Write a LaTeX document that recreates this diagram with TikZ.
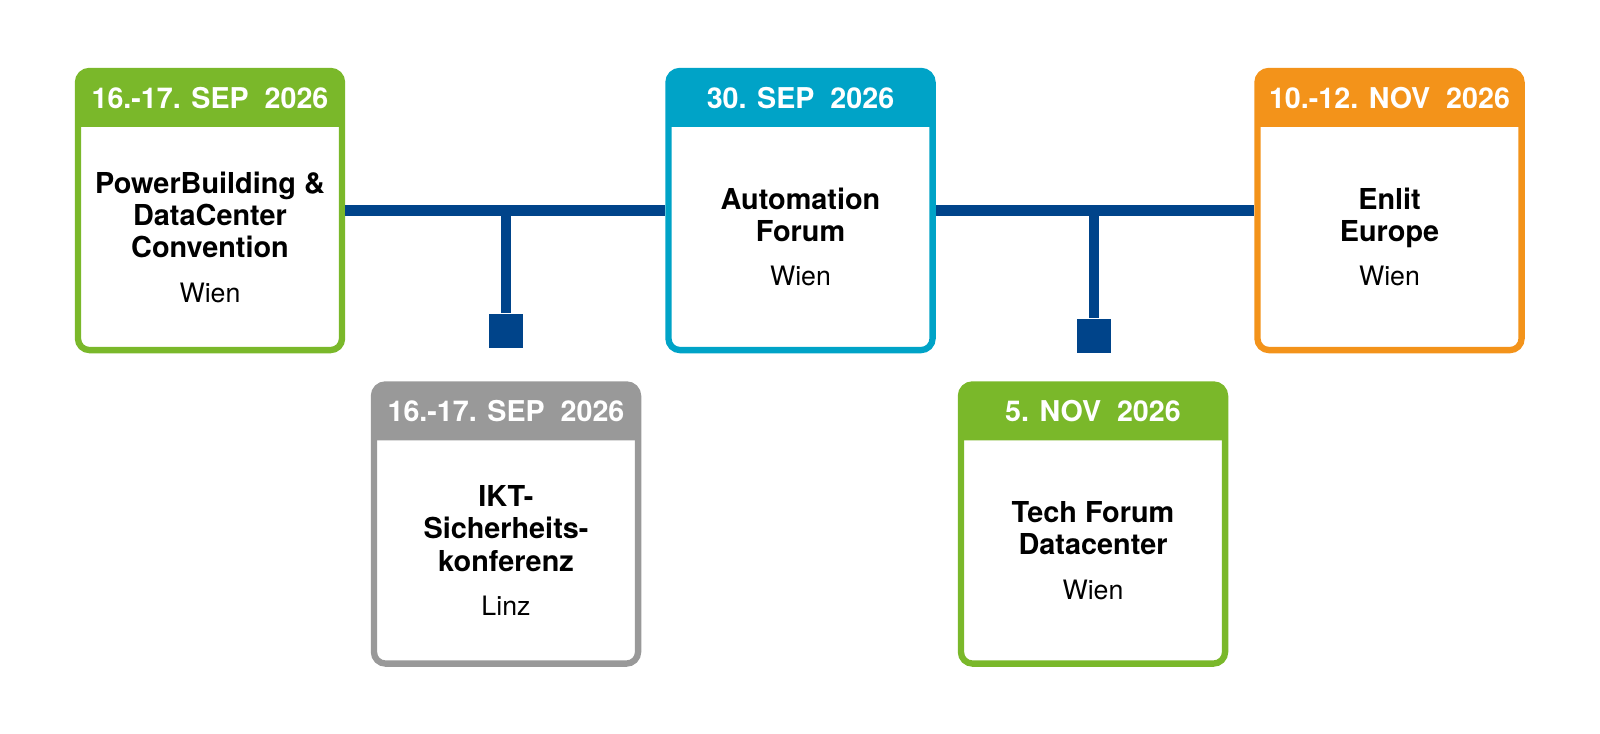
\documentclass[tikz,border=0pt]{standalone}
\usepackage{fontspec}
\setmainfont{TeX Gyre Heros}
\usetikzlibrary{positioning}
\definecolor{evgreen}{RGB}{122,184,42}
\definecolor{evgray}{RGB}{153,153,153}
\definecolor{evcyan}{RGB}{0,163,199}
\definecolor{evorange}{RGB}{243,147,26}
\definecolor{tlblue}{RGB}{0,68,138}
\newcommand{\evcity}{\mdseries\fontsize{7.6}{9}\selectfont}

\begin{document}
\begin{tikzpicture}[x=0.01cm, y=0.01cm,
  evbox/.style={draw=#1, fill=white, line width=1.8pt, rounded corners=3.3pt,
    minimum width=2.64cm, minimum height=2.79cm, inner sep=0pt, outer sep=0pt},
  evdate/.style={text=white, font=\fontsize{8.15}{9}\selectfont\bfseries, inner sep=0pt},
  evtxt/.style={align=center, font=\fontsize{8.2}{9.2}\selectfont\bfseries, inner sep=0pt},
  evpin/.style={fill=tlblue, minimum size=0.34cm, inner sep=0pt},
  tline/.style={draw=tlblue, line width=3pt, shorten <=0.9pt, shorten >=0.9pt}]
\useasboundingbox (0,0) rectangle (1600,-733);

\node [evbox=evgreen] (pb) at (210,-210.5) {};
\fill [evgreen] ([yshift=-0.56cm]pb.north west) [rounded corners=3.3pt] -- (pb.north west) -- (pb.north east) [sharp corners] -- ([yshift=-0.56cm]pb.north east) -- cycle;
\node [evdate] (pb-date) at ([yshift=-0.27cm]pb.north) {16.-17. SEP\ \ 2026};
\node [evtxt] (pb-txt) at ([yshift=-0.265cm]pb.center) {PowerBuilding \&\\DataCenter\\Convention\\[3.4pt]{\evcity Wien}};

\node [evbox=evgray] (ikt) at (506,-524) {};
\fill [evgray] ([yshift=-0.56cm]ikt.north west) [rounded corners=3.3pt] -- (ikt.north west) -- (ikt.north east) [sharp corners] -- ([yshift=-0.56cm]ikt.north east) -- cycle;
\node [evdate] (ikt-date) at ([yshift=-0.27cm]ikt.north) {16.-17. SEP\ \ 2026};
\node [evtxt] (ikt-txt) at ([yshift=-0.265cm]ikt.center) {IKT-\\Sicherheits-\\konferenz\\[3.4pt]{\evcity Linz}};

\node [evbox=evcyan] (af) at (800.5,-210.5) {};
\fill [evcyan] ([yshift=-0.56cm]af.north west) [rounded corners=3.3pt] -- (af.north west) -- (af.north east) [sharp corners] -- ([yshift=-0.56cm]af.north east) -- cycle;
\node [evdate] (af-date) at ([yshift=-0.27cm]af.north) {30. SEP\ \ 2026};
\node [evtxt] (af-txt) at ([yshift=-0.265cm]af.center) {Automation\\Forum\\[3.4pt]{\evcity Wien}};

\node [evbox=evgreen] (tf) at (1093,-524) {};
\fill [evgreen] ([yshift=-0.56cm]tf.north west) [rounded corners=3.3pt] -- (tf.north west) -- (tf.north east) [sharp corners] -- ([yshift=-0.56cm]tf.north east) -- cycle;
\node [evdate] (tf-date) at ([yshift=-0.27cm]tf.north) {5. NOV\ \ 2026};
\node [evtxt] (tf-txt) at ([yshift=-0.265cm]tf.center) {Tech Forum\\Datacenter\\[3.4pt]{\evcity Wien}};

\node [evbox=evorange] (en) at (1389.5,-210.5) {};
\fill [evorange] ([yshift=-0.56cm]en.north west) [rounded corners=3.3pt] -- (en.north west) -- (en.north east) [sharp corners] -- ([yshift=-0.56cm]en.north east) -- cycle;
\node [evdate] (en-date) at ([yshift=-0.27cm]en.north) {10.-12. NOV\ \ 2026};
\node [evtxt] (en-txt) at ([yshift=-0.265cm]en.center) {Enlit\\Europe\\[3.4pt]{\evcity Wien}};

\node [evpin] (ikt-pin) at (506,-331) {};
\node [evpin] (tf-pin) at (1094,-336) {};

\draw [tline] (pb.east) -- (af.west);
\draw [tline] (af.east) -- (en.west);
\draw [tline, shorten <=0pt, shorten >=0pt] (ikt-pin |- pb.east) -- (ikt-pin.north);
\draw [tline, shorten <=0pt, shorten >=0pt] (tf-pin |- af.east) -- (tf-pin.north);
\end{tikzpicture}
\end{document}
